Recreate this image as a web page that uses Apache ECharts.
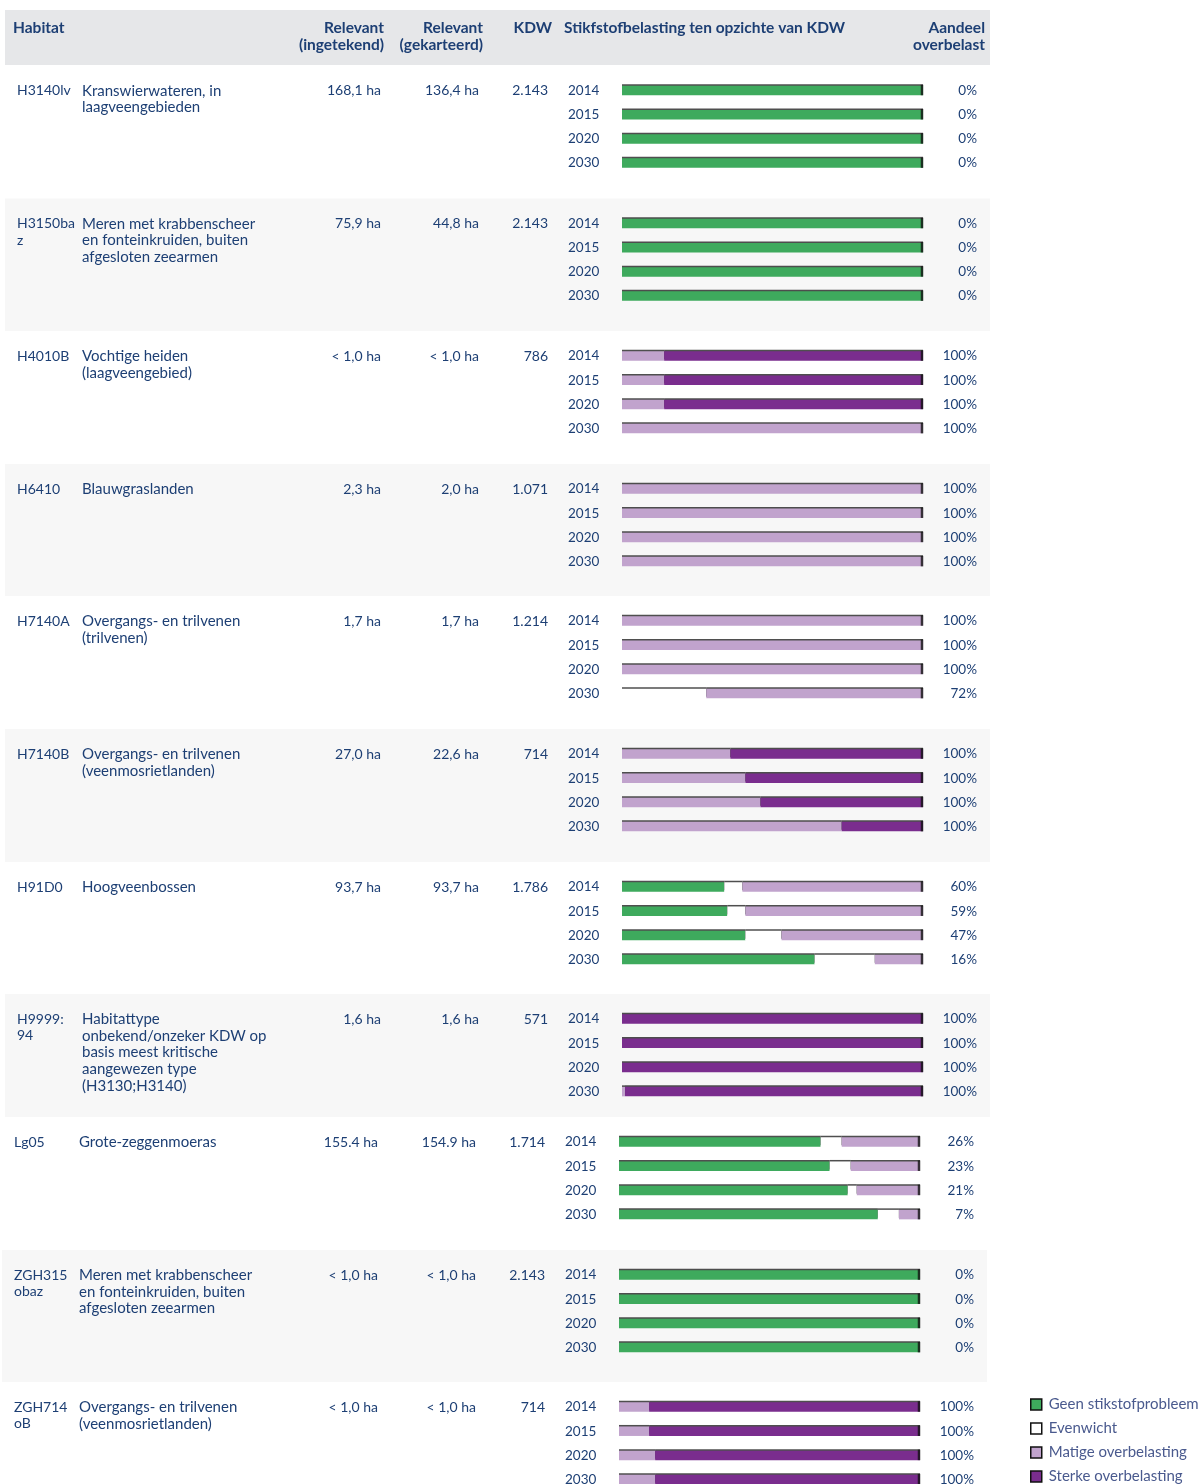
<!DOCTYPE html>
<html><head><meta charset="utf-8">
<script src="https://cdn.jsdelivr.net/npm/echarts@6/dist/echarts.min.js"></script>
<style>html,body{margin:0;padding:0;background:#fff}#c{width:1200px;height:1484px}</style>
</head><body><div id="c"></div>
<script>
// ---------- DATA ----------
const years = ['2014', '2015', '2020', '2030'];
const habitatCodes = ['H3140lv', 'H3150ba\nz', 'H4010B', 'H6410', 'H7140A', 'H7140B', 'H91D0', 'H9999:\n94', 'Lg05', 'ZGH315\nobaz', 'ZGH714\noB'];
const habitatNames = [
  'Kranswierwateren, in\nlaagveengebieden',
  'Meren met krabbenscheer\nen fonteinkruiden, buiten\nafgesloten zeearmen',
  'Vochtige heiden\n(laagveengebied)',
  'Blauwgraslanden',
  'Overgangs- en trilvenen\n(trilvenen)',
  'Overgangs- en trilvenen\n(veenmosrietlanden)',
  'Hoogveenbossen',
  'Habitattype\nonbekend/onzeker KDW op\nbasis meest kritische\naangewezen type\n(H3130;H3140)',
  'Grote-zeggenmoeras',
  'Meren met krabbenscheer\nen fonteinkruiden, buiten\nafgesloten zeearmen',
  'Overgangs- en trilvenen\n(veenmosrietlanden)'
];
const relevantIngetekend = ['168,1 ha', '75,9 ha', '< 1,0 ha', '2,3 ha', '1,7 ha', '27,0 ha', '93,7 ha', '1,6 ha', '155.4 ha', '< 1,0 ha', '< 1,0 ha'];
const relevantGekarteerd = ['136,4 ha', '44,8 ha', '< 1,0 ha', '2,0 ha', '1,7 ha', '22,6 ha', '93,7 ha', '1,6 ha', '154.9 ha', '< 1,0 ha', '< 1,0 ha'];
const kdwValues = ['2.143', '2.143', '786', '1.071', '1.214', '714', '1.786', '571', '1.714', '2.143', '714'];

// share of each bar (%), per habitat, per year
const geen = [
  [100, 100, 100, 100], [100, 100, 100, 100], [0, 0, 0, 0], [0, 0, 0, 0], [0, 0, 0, 0], [0, 0, 0, 0],
  [34, 35, 41, 64], [0, 0, 0, 0], [67, 70, 76, 86], [100, 100, 100, 100], [0, 0, 0, 0]
];
const evenwicht = [
  [0, 0, 0, 0], [0, 0, 0, 0], [0, 0, 0, 0], [0, 0, 0, 0], [0, 0, 0, 28], [0, 0, 0, 0],
  [6, 6, 12, 20], [0, 0, 0, 0], [7, 7, 3, 7], [0, 0, 0, 0], [0, 0, 0, 0]
];
const matige = [
  [0, 0, 0, 0], [0, 0, 0, 0], [14, 14, 14, 100], [100, 100, 100, 100], [100, 100, 100, 72], [36, 41, 46, 73],
  [60, 59, 47, 16], [0, 0, 0, 1], [26, 23, 21, 7], [0, 0, 0, 0], [10, 10, 12, 12]
];
const sterke = [
  [0, 0, 0, 0], [0, 0, 0, 0], [86, 86, 86, 0], [0, 0, 0, 0], [0, 0, 0, 0], [64, 59, 54, 27],
  [0, 0, 0, 0], [100, 100, 100, 99], [0, 0, 0, 0], [0, 0, 0, 0], [90, 90, 88, 88]
];
const seriesNames = ['Geen stikstofprobleem', 'Evenwicht', 'Matige overbelasting', 'Sterke overbelasting'];

// ---------- LAYOUT / STYLE ----------
const seriesColors = ['#3eaa5d', '#ffffff', '#c1a3cd', '#7a2d8e'];
const textColor = '#1d3f74';
const FONT = 'Lato, "Open Sans", sans-serif';
const rowCenter = [90.5, 223.5, 356, 489, 621, 754, 887, 1019, 1142, 1275, 1407];
const rowShift = [0, 0, 0, 0, 0, 0, 0, 0, -3, -3, -3];
const pitch = 24.2;

const valueSets = [geen, evenwicht, matige, sterke];
const graphics = [];

// header band
graphics.push({ type: 'rect', z: 0, shape: { x: 5, y: 10, width: 985, height: 55 }, style: { fill: '#e6e7e9' } });
function txt(text, x, y, opt) {
  opt = opt || {};
  graphics.push({
    type: 'text', z: 5, x: x, y: y,
    style: {
      text: text, fill: opt.color || textColor,
      font: (opt.bold ? 'bold ' : '') + (opt.size || 14) + 'px ' + FONT,
      align: opt.align || 'left', textAlign: opt.align || 'left',
      verticalAlign: opt.va || 'middle', textVerticalAlign: opt.va || 'middle',
      lineHeight: opt.lh || 16.6
    }
  });
}
const HS = 15.5;
txt('Habitat', 13, 28, { bold: true, size: HS });
txt('Relevant', 384, 28, { bold: true, align: 'right', size: HS });
txt('(ingetekend)', 384, 45, { bold: true, align: 'right', size: HS });
txt('Relevant', 483, 28, { bold: true, align: 'right', size: HS });
txt('(gekarteerd)', 483, 45, { bold: true, align: 'right', size: HS });
txt('KDW', 552, 28, { bold: true, align: 'right', size: HS });
txt('Stikfstofbelasting ten opzichte van KDW', 564, 28, { bold: true, size: HS });
txt('Aandeel', 985, 28, { bold: true, align: 'right', size: HS });
txt('overbelast', 985, 45, { bold: true, align: 'right', size: HS });

const grids = [], xAxes = [], yAxes = [], series = [];
habitatCodes.forEach((code, g) => {
  const rc = rowCenter[g], s = rowShift[g];
  const bandTop = rc - 25;
  const bandBottom = g < habitatCodes.length - 1 ? rowCenter[g + 1] - 25 : 1484;
  graphics.push({ type: 'rect', z: 0, shape: { x: 5 + s, y: bandTop, width: 985, height: bandBottom - bandTop },
    style: { fill: g % 2 === 1 ? '#f7f7f7' : '#ffffff' } });
  txt(code, 17 + s, rc - 8, { va: 'top' });
  txt(habitatNames[g], 82 + s, rc - 8, { va: 'top', size: 15 });
  txt(relevantIngetekend[g], 381 + s, rc - 8, { va: 'top', align: 'right' });
  txt(relevantGekarteerd[g], 479 + s, rc - 8, { va: 'top', align: 'right' });
  txt(kdwValues[g], 548 + s, rc - 8, { va: 'top', align: 'right' });

  grids.push({ left: 622 + s, width: 301, top: rc - pitch / 2, height: pitch * 4, containLabel: false, outerBoundsMode: 'none' });
  xAxes.push({ type: 'value', gridIndex: g, min: 0, max: 100, show: false });
  const share = years.map((y, k) => (matige[g][k] + sterke[g][k]) + '%');
  yAxes.push({
    type: 'category', gridIndex: g, data: years, inverse: true, position: 'left',
    axisLine: { show: false }, axisTick: { show: false }, splitLine: { show: false },
    axisLabel: { align: 'left', margin: 54, color: textColor, fontSize: 13.5, fontFamily: FONT }
  });
  yAxes.push({
    type: 'category', gridIndex: g, data: share, inverse: true, position: 'right',
    axisLine: { show: false }, axisTick: { show: false }, splitLine: { show: false },
    axisLabel: { align: 'right', margin: 54, color: textColor, fontSize: 13.5, fontFamily: FONT }
  });
  valueSets.forEach((vals, k) => {
    series.push({
      type: 'bar', name: seriesNames[k], xAxisIndex: g, yAxisIndex: 2 * g, stack: 'st' + g,
      barWidth: 9.5, data: vals[g], silent: true, animation: false,
      itemStyle: { color: seriesColors[k], shadowColor: 'rgba(20,20,20,0.75)', shadowOffsetY: -1.5, shadowBlur: 0 }
    });
  });
  // right-end tick at the total (100%)
  series.push({
    type: 'scatter', name: 'end', xAxisIndex: g, yAxisIndex: 2 * g, silent: true, animation: false,
    symbol: 'rect', symbolSize: [2.5, 10.5], symbolOffset: [-1, -0.5],
    itemStyle: { color: '#111' }, z: 4,
    data: years.map((y, k) => [geen[g][k] + evenwicht[g][k] + matige[g][k] + sterke[g][k], k])
  });
});

const chart = echarts.init(document.getElementById('c'), null, { renderer: 'canvas' });
chart.setOption({
  animation: false,
  backgroundColor: '#ffffff',
  graphic: graphics,
  grid: grids, xAxis: xAxes, yAxis: yAxes, series: series,
  legend: {
    data: seriesNames, orient: 'vertical', left: 1030, top: 1397, padding: 0,
    icon: 'rect', itemWidth: 11, itemHeight: 11, itemGap: 9,
    itemStyle: { borderColor: '#111', borderWidth: 1.5, shadowBlur: 0, shadowOffsetY: 0, shadowColor: 'transparent' },
    textStyle: { color: '#4a5a8e', fontSize: 15, fontFamily: FONT, padding: [0, 0, 0, 2] },
    selectedMode: false
  }
});
</script>
</body></html>
